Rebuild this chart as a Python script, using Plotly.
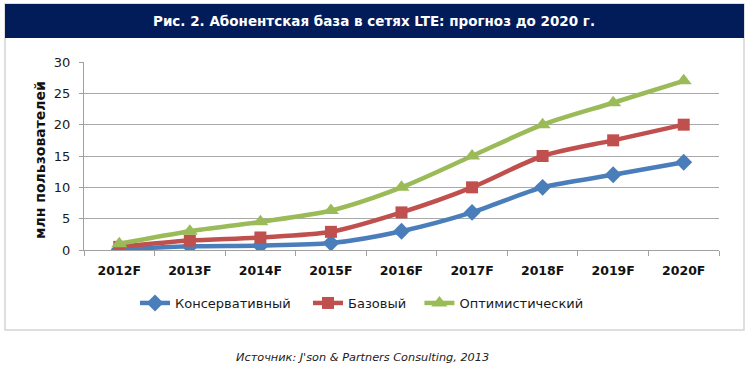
import plotly.graph_objects as go

categories = ["2012F", "2013F", "2014F", "2015F", "2016F", "2017F", "2018F", "2019F", "2020F"]
conservative = [0.1, 0.6, 0.7, 1.1, 3.0, 6.0, 10.0, 12.0, 14.0]
base = [0.5, 1.5, 2.0, 2.9, 6.0, 10.0, 15.0, 17.5, 20.0]
optimistic = [1.0, 3.0, 4.5, 6.3, 10.0, 15.0, 20.0, 23.5, 27.0]
series_names = ["Консервативный", "Базовый", "Оптимистический"]
y_ticks = [0, 5, 10, 15, 20, 25, 30]

title_text = "Рис. 2. Абонентская база в сетях LTE: прогноз до 2020 г."
y_title = "млн пользователей"
source_text = "Источник: J'son & Partners Consulting, 2013"

W, H = 750, 370
L, R, T, B = 84, 719, 62, 250  # plot area in pixels


def px(x):
    return (x - L) / (R - L)


def py(y):
    return (B - y) / (B - T)


fig = go.Figure()
styles = [
    ("#4A7EBB", "diamond", 13, "\u00a0\u00a0\u00a0"),
    ("#C0504D", "square", 12, "\u00a0\u00a0"),
    ("#9BBB59", "triangle-up", 14, ""),
]
for name, vals, (col, sym, sz, pad) in zip(series_names, [conservative, base, optimistic], styles):
    fig.add_trace(go.Scatter(
        x=categories, y=vals, name=name + pad, mode="lines+markers",
        line=dict(color=col, width=4.5, shape="spline", smoothing=0.8),
        marker=dict(symbol=sym, size=sz, color=col, line=dict(width=0)),
    ))

fig.update_layout(
    width=W, height=H, autosize=False,
    margin=dict(l=L, r=W - R, t=T, b=H - B, pad=0),
    paper_bgcolor="white", plot_bgcolor="white",
    font=dict(family="DejaVu Sans", color="#1a1a1a"),
    showlegend=True,
    legend=dict(orientation="h", x=px(362), xanchor="center", y=py(303), yanchor="middle",
                font=dict(size=13, family="DejaVu Sans", color="#1a1a1a"),
                bgcolor="rgba(0,0,0,0)", itemwidth=30, tracegroupgap=0),
    xaxis=dict(type="category", range=[-0.5, 8.5], showgrid=False,
               showline=True, linecolor="#a0a0a0", linewidth=1,
               ticks="outside", tickson="boundaries", ticklen=5, tickcolor="#a0a0a0",
               ticklabelstandoff=9,
               tickfont=dict(family="DejaVu Sans", size=12.5, color="#111111", weight="bold")),
    yaxis=dict(range=[0, 30], tickvals=y_ticks, showgrid=True, gridcolor="#a9a9a9", gridwidth=1,
               zeroline=False, showline=True, linecolor="#a0a0a0", linewidth=1,
               ticks="outside", ticklen=4, tickcolor="#a0a0a0",
               ticklabelstandoff=6,
               tickfont=dict(family="DejaVu Sans", size=13, color="#1a1a1a")),
    shapes=[
        dict(type="rect", xref="paper", yref="paper", x0=px(5), x1=px(744), y0=py(330), y1=py(4),
             line=dict(color="#d4d4d4", width=1.5), fillcolor="rgba(0,0,0,0)", layer="below"),
        dict(type="rect", xref="paper", yref="paper", x0=px(5), x1=px(744), y0=py(38), y1=py(4),
             line=dict(width=0), fillcolor="#021C5A", layer="below"),
    ],
    annotations=[
        dict(text="<b>" + title_text + "</b>", xref="paper", yref="paper", x=px(374), y=py(21),
             xanchor="center", yanchor="middle", showarrow=False,
             font=dict(family="DejaVu Sans", size=13.5, color="white")),
        dict(text="<b>" + y_title + "</b>", xref="paper", yref="paper", x=px(40), y=py(160),
             xanchor="center", yanchor="middle", showarrow=False, textangle=-90,
             font=dict(family="DejaVu Sans", size=14, color="#111111")),
        dict(text="<i>" + source_text + "</i>", xref="paper", yref="paper", x=px(362), y=py(357),
             xanchor="center", yanchor="middle", showarrow=False,
             font=dict(family="DejaVu Sans", size=11.3, color="#222222")),
    ],
)

fig.write_html("out.html", config={"displayModeBar": False},
               post_script="document.body.style.margin='0';")
